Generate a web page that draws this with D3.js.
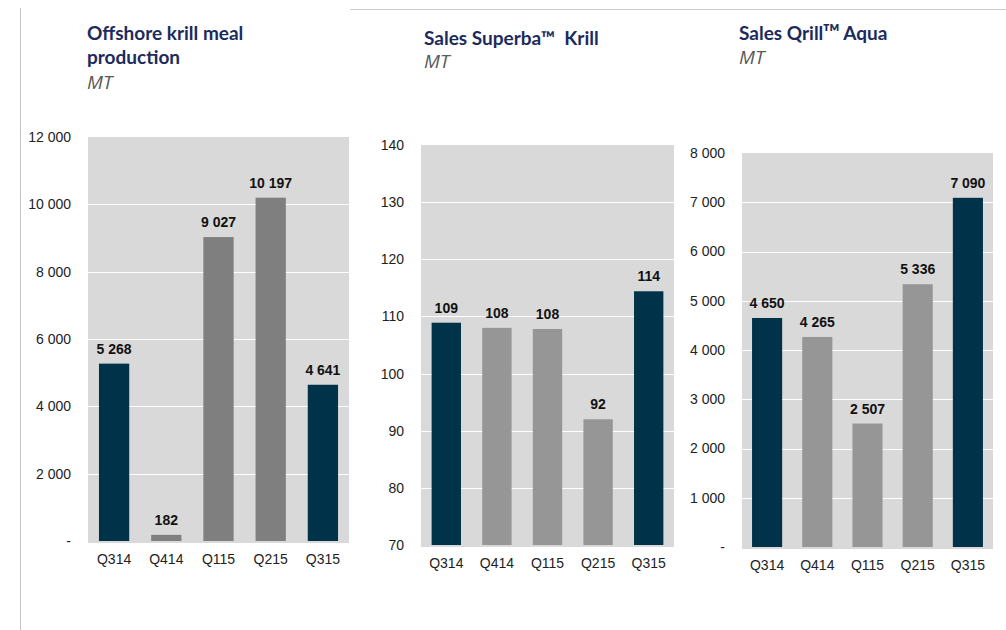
<!DOCTYPE html>
<html>
<head>
<meta charset="utf-8">
<script src="https://cdn.jsdelivr.net/npm/d3@7"></script>
<style>
  body { margin: 0; background: #fff; }
  svg { display: block; }
  .title { font-family: Lato, "Open Sans", sans-serif; font-weight: bold; font-size: 19px; fill: #1c2a5e; white-space: pre; }
  .unit { font-family: "Open Sans", Lato, sans-serif; font-style: italic; font-size: 19px; fill: #595959; }
  .tick text { font-family: "Liberation Sans", Arial, sans-serif; font-size: 14px; fill: #222; }
  .val { font-family: "Liberation Sans", Arial, sans-serif; font-size: 14px; font-weight: bold; fill: #111; }
</style>
</head>
<body>
<svg id="chart" width="1006" height="630"></svg>
<script>
const quarters = ['Q314', 'Q414', 'Q115', 'Q215', 'Q315'];

const mealValues = [5268, 182, 9027, 10197, 4641];
const superbaValues = [108.9, 108.0, 107.8, 92.0, 114.4];
const qrillValues = [4650, 4265, 2507, 5336, 7090];

const mealTicks = [0, 2000, 4000, 6000, 8000, 10000, 12000];
const superbaTicks = [70, 80, 90, 100, 110, 120, 130, 140];
const qrillTicks = [0, 1000, 2000, 3000, 4000, 5000, 6000, 7000, 8000];

const highlight = ['Q314', 'Q315'];

const locale = d3.formatLocale({ decimal: ',', thousands: ' ', grouping: [3], currency: ['', ''] });
const fmt = locale.format(',.0f');
const tickFmt = (d) => d === 0 ? '-' : fmt(d);

const svg = d3.select('#chart');

// frame lines
svg.append('line').attr('x1', 20.5).attr('x2', 20.5).attr('y1', 8).attr('y2', 630)
  .attr('stroke', '#c4c4c4').attr('stroke-width', 1);
svg.append('line').attr('x1', 350).attr('x2', 1006).attr('y1', 9.5).attr('y2', 9.5)
  .attr('stroke', '#cccccc').attr('stroke-width', 1);

const panels = [
  {
    title: ['Offshore krill meal', 'production'], tx: 87, ty: 40, unitGap: 24.5,
    values: mealValues, ticks: mealTicks, gray: '#7f7f7f',
    x0: 88, x1: 349, yTop: 137, yBot: 541, pad: 0.42
  },
  {
    title: ['Sales Superba\u2122  Krill'], tx: 424, ty: 45, unitGap: 23,
    values: superbaValues, ticks: superbaTicks, gray: '#969696',
    x0: 421, x1: 674, yTop: 145, yBot: 545, pad: 0.42
  },
  {
    title: ['Sales Qrill\u1d40\u1d39 Aqua'], tx: 739, ty: 40, unitGap: 23.5,
    values: qrillValues, ticks: qrillTicks, gray: '#969696',
    x0: 742, x1: 993, yTop: 153, yBot: 547, pad: 0.4
  }
];

panels.forEach((p) => {
  const g = svg.append('g');

  const x = d3.scaleBand().domain(quarters).range([p.x0, p.x1]).paddingInner(p.pad).paddingOuter(p.pad / 2);
  const y = d3.scaleLinear().domain(d3.extent(p.ticks)).range([p.yBot, p.yTop]);

  // titles
  const t = g.append('text').attr('class', 'title').attr('x', p.tx).attr('y', p.ty);
  p.title.forEach((line, i) => {
    t.append('tspan').attr('x', p.tx).attr('dy', i === 0 ? 0 : 24).text(line);
  });
  g.append('text').attr('class', 'unit')
    .attr('x', p.tx).attr('y', p.ty + p.unitGap * p.title.length)
    .text('MT');

  // plot background
  g.append('rect')
    .attr('x', p.x0).attr('y', p.yTop)
    .attr('width', p.x1 - p.x0).attr('height', p.yBot - p.yTop + 2)
    .attr('fill', '#d9d9d9');

  // gridlines
  g.selectAll('.grid').data(p.ticks.slice(1, -1)).enter().append('line')
    .attr('class', 'grid')
    .attr('x1', p.x0).attr('x2', p.x1)
    .attr('y1', (d) => Math.round(y(d)) + 0.5).attr('y2', (d) => Math.round(y(d)) + 0.5)
    .attr('stroke', '#ffffff').attr('stroke-width', 1);

  // y axis
  const yAxis = g.append('g')
    .attr('transform', `translate(${p.x0 - 17},0)`)
    .call(d3.axisLeft(y).tickValues(p.ticks).tickFormat(tickFmt).tickSize(0).tickPadding(0));
  yAxis.select('.domain').remove();

  // x axis
  const xAxis = g.append('g')
    .attr('transform', `translate(0,${p.yBot + 5})`)
    .call(d3.axisBottom(x).tickSize(0).tickPadding(8));
  xAxis.select('.domain').remove();

  // bars
  g.selectAll('.bar').data(p.values).enter().append('rect')
    .attr('class', 'bar')
    .attr('x', (d, i) => x(quarters[i]))
    .attr('width', x.bandwidth())
    .attr('y', (d) => y(d))
    .attr('height', (d) => p.yBot - y(d))
    .attr('fill', (d, i) => highlight.includes(quarters[i]) ? '#003349' : p.gray);

  // value labels
  g.selectAll('.val').data(p.values).enter().append('text')
    .attr('class', 'val')
    .attr('x', (d, i) => x(quarters[i]) + x.bandwidth() / 2)
    .attr('y', (d) => y(d) - 10)
    .attr('text-anchor', 'middle')
    .text((d) => fmt(d));
});
</script>
</body>
</html>
